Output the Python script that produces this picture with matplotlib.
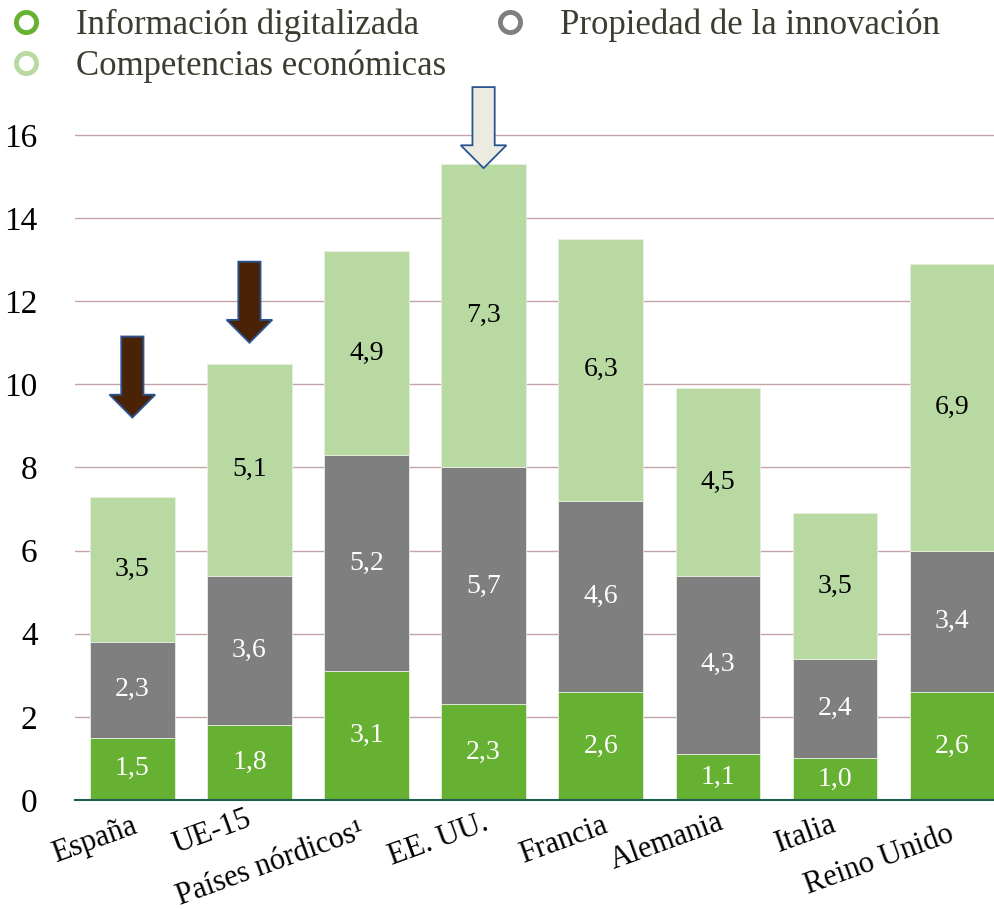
"""
Inversión en activos intangibles por país, apilada por componente.
"""

import numpy as np
import matplotlib.pyplot as plt
from matplotlib.lines import Line2D
from matplotlib.patches import FancyArrow
from matplotlib.transforms import blended_transform_factory, offset_copy

plt.rcParams['font.family'] = ['Liberation Serif', 'DejaVu Serif']

countries = ["España", "UE-15", "Países nórdicos¹", "EE. UU.", "Francia",
             "Alemania", "Italia", "Reino Unido"]
info_digital = [1.5, 1.8, 3.1, 2.3, 2.6, 1.1, 1.0, 2.6]
propiedad = [2.3, 3.6, 5.2, 5.7, 4.6, 4.3, 2.4, 3.4]
competencias = [3.5, 5.1, 4.9, 7.3, 6.3, 4.5, 3.5, 6.9]

series_names = ["Información digitalizada", "Propiedad de la innovación",
                "Competencias económicas"]
colors = ["#66b032", "#7f7f7f", "#b8daa2"]
text_colors = ["white", "white", "black"]

# arrows: (country index, value at the tip, kind)
arrows = [(0, 9.2, "dark"), (1, 11.0, "dark"), (3, 15.2, "light")]


def main():
    fig = plt.figure(figsize=(9.94, 9.09), dpi=100)
    ax = fig.add_axes([75 / 994, 109 / 909, 1 - 75 / 994, 715 / 909])

    x = np.arange(len(countries))
    width = 0.72
    bottom = np.zeros(len(countries))
    for vals, col, tcol in zip([info_digital, propiedad, competencias],
                               colors, text_colors):
        vals = np.array(vals)
        ax.bar(x, vals, width, bottom=bottom, color=col,
               edgecolor="#e6efe0", linewidth=0.6, zorder=2)
        for xi, b, v in zip(x, bottom, vals):
            ax.text(xi, b + v / 2, f"{v:.1f}".replace(".", ","),
                    ha="center", va="center", fontsize=20, color=tcol,
                    zorder=3)
        bottom = bottom + vals

    ax.set_xlim(-0.49, 7.36)
    ax.set_ylim(0, 17.2)
    ax.set_yticks(np.arange(0, 17, 2))
    ax.tick_params(axis="y", length=0, pad=27, labelsize=24)
    ax.set_xticks([])
    for t in np.arange(2, 17, 2):
        ax.axhline(t, color="#c4a4a6", linewidth=1.0, zorder=1)
    for s in ["top", "right", "left"]:
        ax.spines[s].set_visible(False)
    ax.spines["bottom"].set_color("#1d5e52")
    ax.spines["bottom"].set_linewidth(1.5)

    # rotated, staggered category labels
    trans = blended_transform_factory(ax.transData, ax.transAxes)
    dx = [-0.32, -0.32, -0.82, -0.39, -0.32, -0.43, -0.25, -0.62]
    dy_px = [-40, -32, -64, -40, -40, -42, -34, -60]
    for xi, name, ox, oy in zip(x, countries, dx, dy_px):
        tr = offset_copy(trans, fig=fig, x=0, y=oy, units="dots")
        ax.text(xi + ox, 0, name, transform=tr, rotation=20,
                ha="center", va="center", fontsize=22, color="black",
                clip_on=False)

    # arrows pointing at bars
    for idx, tip, kind in arrows:
        fc = "#4a2307" if kind == "dark" else "#ecebe1"
        ax.add_patch(FancyArrow(x[idx], tip + 1.95, 0, -1.95, width=0.19,
                                head_width=0.39, head_length=0.55,
                                length_includes_head=True, facecolor=fc,
                                edgecolor="#2a5491", linewidth=1.3,
                                zorder=4, clip_on=False))

    handles = [Line2D([], [], linestyle="none", marker="o", markersize=14.5,
                      markerfacecolor="white", markeredgecolor=c,
                      markeredgewidth=3.5) for c in colors]
    # column-major fill: info, competencias | propiedad
    order = [0, 2, 1]
    fig.legend([handles[i] for i in order], [series_names[i] for i in order],
               loc="upper left", bbox_to_anchor=(0.0087, 0.9904), ncol=2,
               frameon=False, fontsize=25, labelcolor="#3c3c30",
               borderpad=0, borderaxespad=0, handletextpad=0.94,
               columnspacing=1.35, labelspacing=0.2, handlelength=1.0)

    fig.savefig("out.png", dpi=100)


if __name__ == '__main__':
    main()
